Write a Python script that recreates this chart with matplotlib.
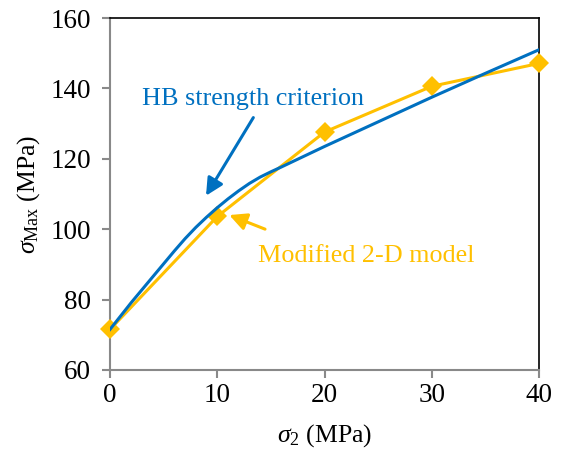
import numpy as np
import matplotlib
matplotlib.use('Agg')
import matplotlib.pyplot as plt

# modified 2-D model, measured points
model_s2 = [0, 10, 20, 30, 40]
model_smax = [71.5, 103.6, 127.6, 140.6, 147.1]

# HB strength criterion curve
hb_s2 = [0, 2, 4, 6, 7, 8, 9, 10, 11, 12, 13, 14, 15, 16, 18, 20, 25, 30, 35, 40]
hb_smax = [71.5, 79.2, 86.5, 93.8, 97.3, 100.5, 103.4, 106.1, 108.6, 110.9, 113.0, 114.8,
           116.3, 117.7, 120.6, 123.5, 130.5, 137.5, 144.3, 151.0]

x_ticks = [0, 10, 20, 30, 40]
y_ticks = [60, 80, 100, 120, 140, 160]

BLUE = '#0070C0'
GOLD = '#FFC000'
AXIS_GRAY = '#898989'

plt.rcParams['font.family'] = ['Liberation Serif', 'DejaVu Serif']
plt.rcParams['mathtext.fontset'] = 'custom'
plt.rcParams['mathtext.rm'] = 'Liberation Serif'
plt.rcParams['mathtext.it'] = 'Liberation Serif:italic'


def style_axes(ax):
	for side in ('top', 'right'):
		ax.spines[side].set_color('black')
		ax.spines[side].set_linewidth(1.2)
	for side in ('left', 'bottom'):
		ax.spines[side].set_color(AXIS_GRAY)
		ax.spines[side].set_linewidth(1.5)
	ax.tick_params(direction='out', length=5.5, width=1.5, color=AXIS_GRAY, labelsize=19.5)
	ax.tick_params(axis='x', pad=4)
	ax.tick_params(axis='y', pad=8)


fig = plt.figure(figsize=(5.64, 4.50), dpi=100)
ax = fig.add_axes([0.195, 0.178, 0.761, 0.782])

# markers at the axis ends are drawn whole, past the frame
ax.plot(model_s2, model_smax, color=GOLD, lw=2.2, marker='D', markersize=10,
        markeredgewidth=0, zorder=3, clip_on=False)
ax.plot(hb_s2, hb_smax, color=BLUE, lw=2.2, zorder=4)

ax.set_xlim(0, 40)
ax.set_ylim(60, 160)
ax.set_xticks(x_ticks)
ax.set_yticks(y_ticks)
style_axes(ax)

ax.set_xlabel(r'$\sigma_2$ (MPa)', fontsize=18.5, labelpad=10)
ax.set_ylabel(r'$\sigma_{\mathrm{Max}}$ (MPa)', fontsize=18.5, labelpad=6)

arrow = dict(arrowstyle='-|>', mutation_scale=26, lw=2.2, shrinkA=0, shrinkB=0)

ax.text(2.95, 135.3, 'HB strength criterion', color=BLUE, fontsize=18.8,
        ha='left', va='baseline')
ax.annotate('', xy=(8.95, 109.5), xytext=(13.36, 131.7),
            arrowprops=dict(arrow, color=BLUE))

ax.text(13.77, 90.6, 'Modified 2-D model', color=GOLD, fontsize=18.8,
        ha='left', va='baseline')
ax.annotate('', xy=(11.12, 104.0), xytext=(14.45, 100.0),
            arrowprops=dict(arrow, color=GOLD))

fig.savefig('out.png', dpi=100)
plt.close()
